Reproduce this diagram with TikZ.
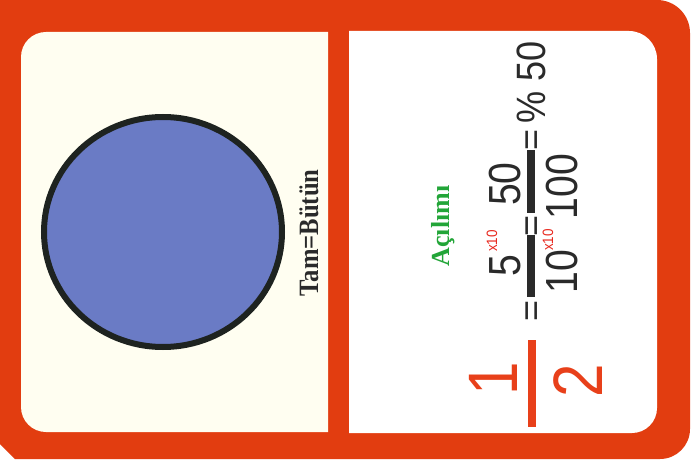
\documentclass[tikz,border=0pt]{standalone}
\usepackage{fontspec}
\setmainfont{Liberation Serif}
\newfontfamily\numfont{Liberation Sans}
\usepackage{graphicx}
\definecolor{cardorange}{RGB}{226,61,16}
\definecolor{cream}{RGB}{255,254,241}
\definecolor{discblue}{RGB}{106,123,197}
\definecolor{discline}{RGB}{30,35,32}
\definecolor{fracorange}{RGB}{232,64,26}
\definecolor{inkgray}{RGB}{42,42,42}
\definecolor{suprred}{RGB}{232,40,30}
\definecolor{labelgreen}{RGB}{34,165,56}
\begin{document}
\begin{tikzpicture}[x=1pt,y=1pt,
  rtext/.style={rotate=90, anchor=base, inner sep=0pt, outer sep=0pt},
  bignum/.style={rtext, text=fracorange, font=\numfont\fontsize{70}{80}\selectfont},
  midnum/.style={rtext, text=inkgray, font=\numfont\fontsize{45}{54}\selectfont},
  eqsign/.style={rtext, text=inkgray, font=\numfont\fontsize{36}{42}\selectfont},
  supnum/.style={rtext, text=suprred, font=\numfont\fontsize{15}{17}\selectfont},
  pctnum/.style={rtext, text=inkgray, font=\numfont\fontsize{41}{48}\selectfont},
  serifbold/.style={rtext, font=\bfseries\fontsize{28}{32}\selectfont}
]
\useasboundingbox (0,0) rectangle (693,461);
\fill[white] (0,0) rectangle (693,461);
% card frame
\fill[cardorange] (0,461) -- (657,461) arc[start angle=90, end angle=0, radius=33]
  -- (690,32) arc[start angle=0, end angle=-90, radius=30] -- (15,2) -- (0,17) -- cycle;
% left panel
\fill[cream] (328,429) -- (46,429) arc[start angle=90, end angle=180, radius=25]
  -- (21,54) arc[start angle=180, end angle=270, radius=25] -- (328,29) -- cycle;
% right panel
\fill[white] (349,430) -- (629,430) arc[start angle=90, end angle=0, radius=28]
  -- (657,53) arc[start angle=0, end angle=-90, radius=25] -- (349,28) -- cycle;
% disc
\draw[discline, line width=6pt, fill=discblue] (163,229) ellipse [x radius=119pt, y radius=115pt];
% labels
\node[serifbold, text=inkgray] (tam) at (318,228) {\scalebox{0.88}[1]{Tam=Bütün}};
\node[serifbold, text=labelgreen, font=\bfseries\fontsize{26}{30}\selectfont] (acilim) at (449,235) {Açılımı};
% 1/2
\node[bignum] (one) at (517,82.5) {\scalebox{0.86}[1]{1}};
\fill[fracorange] (528,34) rectangle (536,121);
\node[bignum] (two) at (602,80) {\scalebox{0.86}[1]{2}};
% equals 1
\node[eqsign] (eqa) at (543.5,150.5) {=};
% 5/10
\node[midnum] (five) at (520,195.5) {\scalebox{0.87}[1]{5}};
\node[supnum] (supa) at (497,220) {\scalebox{0.9}[1]{x10}};
\fill[inkgray] (527,164) rectangle (535,226);
\node[midnum] (ten) at (577,189.5) {\scalebox{0.87}[1]{10}};
\node[supnum] (supb) at (553,221) {\scalebox{0.9}[1]{x10}};
% equals 2
\node[eqsign] (eqb) at (543.5,235.5) {=};
% 50/100
\node[midnum] (fifty) at (520,277) {\scalebox{0.87}[1]{50}};
\fill[inkgray] (527,248) rectangle (535,311);
\node[midnum] (hundred) at (577,274.5) {\scalebox{0.87}[1]{100}};
% equals 3
\node[eqsign] (eqc) at (543.5,321) {=};
% % 50
\node[pctnum] (pct) at (545,378.5) {\scalebox{0.88}[1]{\% 50}};
\end{tikzpicture}
\end{document}
